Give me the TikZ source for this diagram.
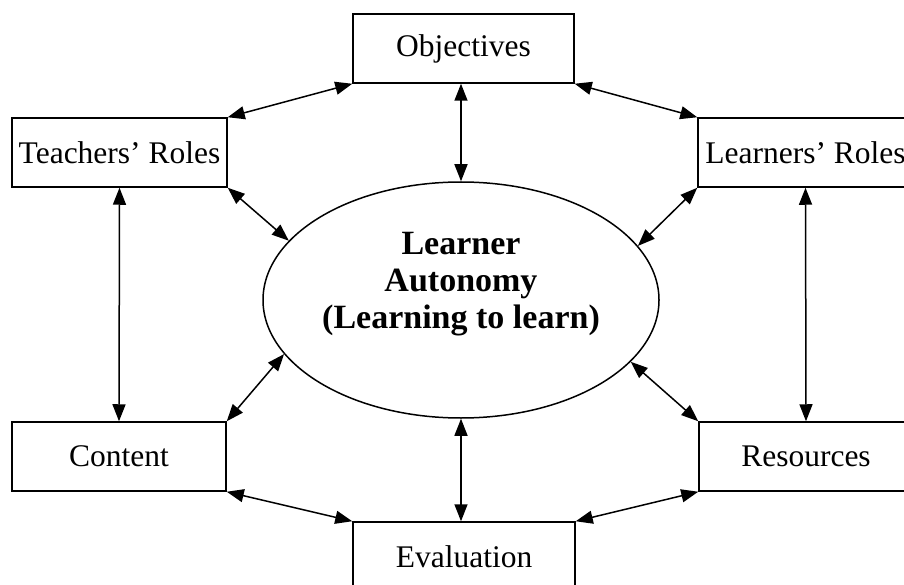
\documentclass[tikz,border=0pt]{standalone}
\usepackage{fontspec}
\setmainfont{Liberation Serif}
\usetikzlibrary{arrows.meta,shapes.geometric}
\begin{document}
\begin{tikzpicture}[x=1pt,y=-1pt,
  box/.style={draw,line width=1.5pt,minimum width=#1,minimum height=69pt,inner sep=0pt,font=\fontsize{31.5}{36}\selectfont},
  link/.style={{Triangle[length=17pt,width=13pt]}-{Triangle[length=17pt,width=13pt]},line width=1.5pt}]
\useasboundingbox (0,0) rectangle (904,585);
\node[box=221pt] (obj) at (463.5,48.5) {Objectives};
\node[box=215pt] (tea) at (119.5,152.5) {Teachers’ Roles};
\node[box=215pt] (lea) at (805.5,152.5) {Learners’ Roles};
\node[box=214pt] (con) at (119,456.5) {Content};
\node[box=214pt] (res) at (806,456.5) {Resources};
\node[box=222pt] (eva) at (464,556.5) {Evaluation};
\node[draw,ellipse,line width=1.5pt,minimum width=396pt,minimum height=236pt,inner sep=0pt] (e) at (461,300) {};
\node[align=center,font=\bfseries\fontsize{34}{37}\selectfont] (et) at (461,284) {Learner\\Autonomy\\(Learning to learn)};
\draw[link] (tea.north east) -- (obj.south west);
\draw[link] (obj.south east) -- (lea.north west);
\draw[link] (obj.south -| e.north) -- (e.north);
\draw[link] (tea.south east) -- (e.161.8);
\draw[link] (lea.south west) -- (e.17.1);
\draw[link] (tea.south) -- (con.north);
\draw[link] (lea.south) -- (res.north);
\draw[link] (con.north east) -- (e.197.6);
\draw[link] (res.north west) -- (e.340.3);
\draw[link] (e.south) -- (eva.north -| e.south);
\draw[link] (con.south east) -- (eva.north west);
\draw[link] (res.south west) -- (eva.north east);
\end{tikzpicture}
\end{document}
